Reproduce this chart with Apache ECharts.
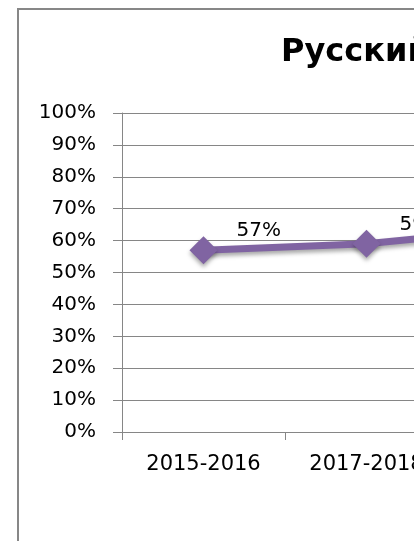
<!DOCTYPE html>
<html>
<head>
<meta charset="utf-8">
<script src="https://cdn.jsdelivr.net/npm/echarts@6/dist/echarts.min.js"></script>
<style>
  html, body { margin: 0; padding: 0; overflow: hidden; background: #fff; }
  #chart { position: absolute; left: 0; top: 0; width: 650px; height: 600px; }
</style>
</head>
<body>
<div id="chart"></div>
<script>
// данные диаграммы
const titleText = 'Русский язык'
const years = ['2015-2016', '2017-2018', '2019-2020']
const shares = [57, 59, 64]
const yTicks = {min: 0, max: 100, step: 10}

const chart = echarts.init(document.getElementById('chart'))

const axisGray = '#868686'
const font = 'DejaVu Sans'

chart.setOption({
  backgroundColor: '#fff',
  animation: false,
  title: {
    text: titleText,
    left: 281,
    top: 37,
    padding: 0,
    textStyle: {
      fontFamily: font,
      fontWeight: 'bold',
      fontSize: 32,
      color: '#000'
    }
  },
  // рамка вокруг диаграммы
  graphic: [
    {
      type: 'rect',
      silent: true,
      shape: {x: 18, y: 9, width: 800, height: 800},
      style: {fill: 'none', stroke: '#878787', lineWidth: 2}
    }
  ],
  grid: {
    left: 122,
    top: 113,
    width: 489,
    height: 319
  },
  xAxis: {
    type: 'category',
    data: years,
    boundaryGap: true,
    axisLine: {show: true, lineStyle: {color: axisGray, width: 1}},
    axisTick: {show: true, length: 8, lineStyle: {color: axisGray}},
    axisLabel: {
      margin: 22,
      fontFamily: font,
      fontSize: 21,
      color: '#000'
    },
    splitLine: {show: false}
  },
  yAxis: {
    type: 'value',
    min: yTicks.min,
    max: yTicks.max,
    interval: yTicks.step,
    axisLine: {show: true, lineStyle: {color: axisGray, width: 1}},
    axisTick: {show: true, length: 9, lineStyle: {color: axisGray}},
    axisLabel: {
      margin: 26,
      fontFamily: font,
      fontSize: 20,
      color: '#000',
      formatter: '{value}%'
    },
    splitLine: {show: true, lineStyle: {color: axisGray, width: 1}}
  },
  series: [
    {
      type: 'line',
      data: shares,
      symbol: 'diamond',
      symbolSize: 28,
      lineStyle: {
        width: 7,
        color: '#8064A2',
        shadowColor: 'rgba(0,0,0,0.35)',
        shadowBlur: 4,
        shadowOffsetY: 3
      },
      itemStyle: {
        color: '#8064A2',
        shadowColor: 'rgba(0,0,0,0.35)',
        shadowBlur: 4,
        shadowOffsetY: 3
      },
      label: {
        show: true,
        position: 'right',
        distance: 19,
        offset: [0, -19],
        fontFamily: font,
        fontSize: 20,
        color: '#000',
        formatter: '{c}%'
      }
    }
  ]
})
</script>
</body>
</html>
